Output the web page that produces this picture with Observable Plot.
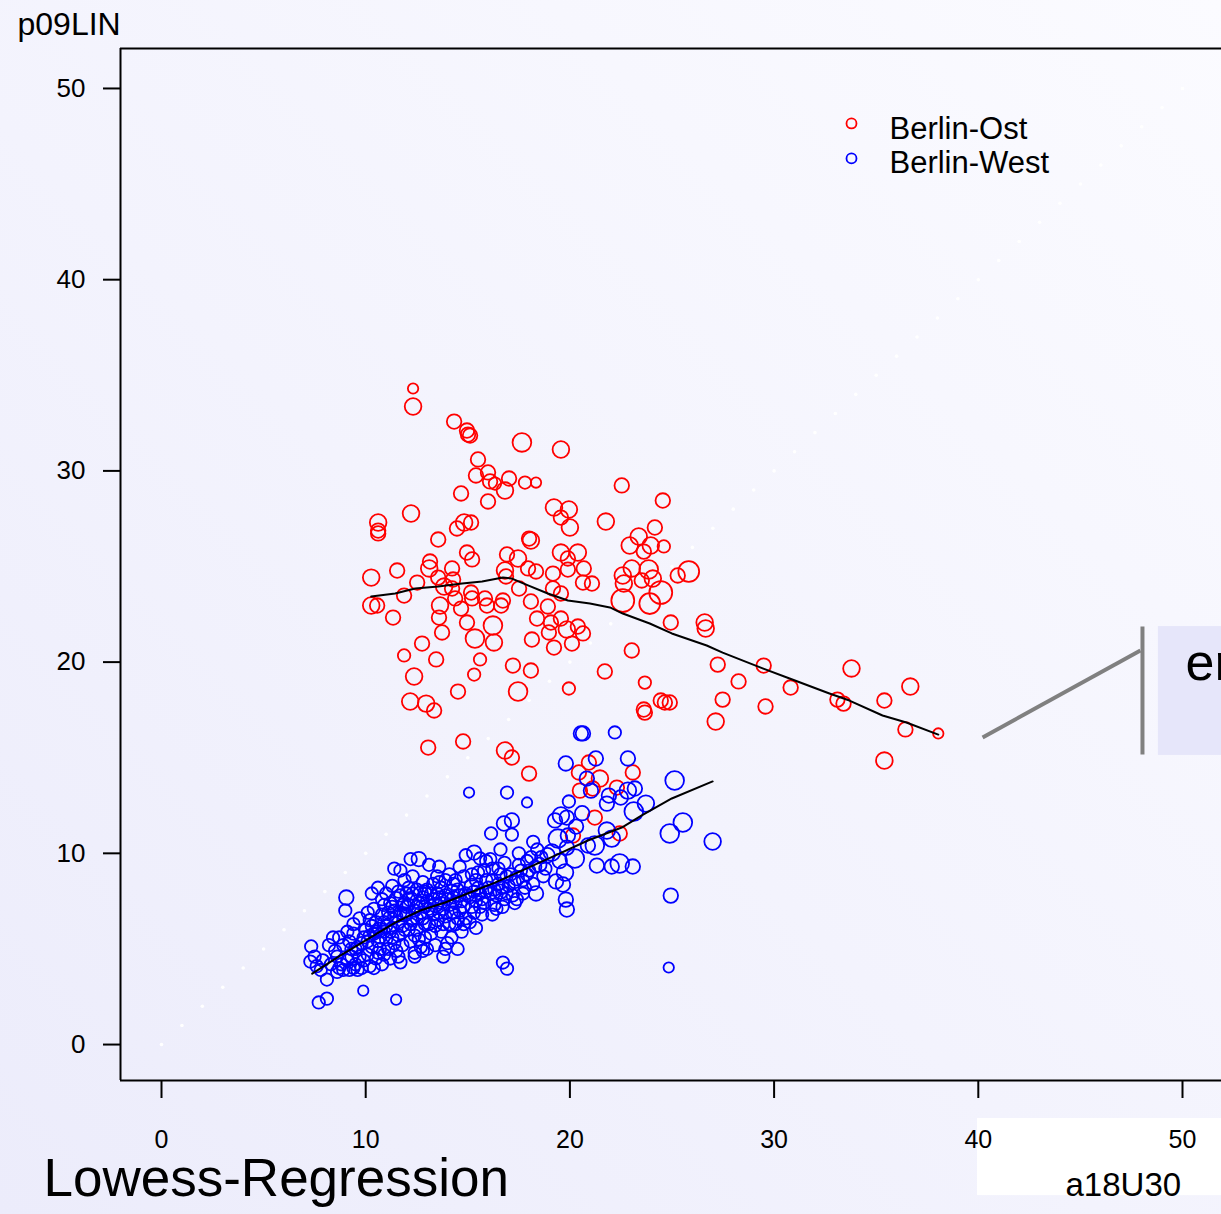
<!DOCTYPE html>
<html>
<head>
<meta charset="utf-8">
<script src="https://cdn.jsdelivr.net/npm/d3@7"></script>
<script src="https://cdn.jsdelivr.net/npm/@observablehq/plot@0.6"></script>
<style>
html, body { margin: 0; padding: 0; }
body {
  width: 1221px; height: 1214px; overflow: hidden;
  background: linear-gradient(to top right, #ececfb 0%, #f3f3fd 45%, #fbfbff 100%);
  font-family: "Liberation Sans", Arial, sans-serif;
}
#chart { position: absolute; left: 0; top: 0; }
#chart svg { display: block; }
</style>
</head>
<body>
<div id="chart"></div>
<script>
// ---- data ----
const groups = ["Berlin-Ost", "Berlin-West"];
const groupColors = ["#ff0000", "#0000ff"];
const xTicks = [0, 10, 20, 30, 40, 50];
const yTicks = [0, 10, 20, 30, 40, 50];
const xLabel = "a18U30";
const yLabel = "p09LIN";
const title = "Lowess-Regression";
const calloutText = "er";

// Berlin-Ost: [a18U30, p09LIN, weight]
const ostPoints = [
[12.32,34.31,5],[12.32,33.37,8],[14.33,32.58,7],[14.96,32.11,7],[15.01,31.90,7],[15.11,31.85,7],[17.65,31.49,9],[19.56,31.12,8],
[15.50,30.60,7],[15.40,29.76,7],[15.99,29.92,7],[16.09,29.45,7],[16.33,29.34,6],[16.82,28.97,8],[17.02,29.60,7],[17.80,29.39,6],
[18.34,29.39,5],[14.67,28.82,7],[15.99,28.40,7],[22.54,29.24,7],[24.55,28.45,7],[10.61,27.30,8],[10.61,26.88,7],[10.61,26.73,7],
[12.22,27.77,8],[13.55,26.41,7],[14.47,26.99,7],[14.82,27.30,8],[15.16,27.30,7],[19.22,28.09,8],[19.95,27.98,8],[19.56,27.56,7],
[20.00,27.04,8],[21.76,27.35,8],[24.16,27.04,7],[18.00,26.46,7],[18.09,26.36,8],[23.37,26.57,8],[23.62,25.78,7],[24.60,26.05,6],
[22.93,26.10,8],[23.96,26.10,8],[14.96,25.73,7],[15.21,25.37,7],[19.56,25.73,8],[20.39,25.73,8],[19.90,25.42,7],[16.92,25.63,7],
[17.46,25.42,8],[17.95,24.90,7],[18.34,24.74,7],[11.54,24.79,7],[12.52,24.16,7],[13.15,25.26,7],[13.11,24.90,8],[13.55,24.42,7],
[13.84,23.95,8],[14.23,24.90,7],[14.28,24.32,7],[14.23,23.85,7],[10.27,24.42,8],[16.82,24.79,8],[16.87,24.48,7],[17.51,23.85,7],
[18.09,23.17,7],[19.17,24.63,7],[19.90,24.84,7],[20.68,24.90,7],[20.64,24.16,7],[21.08,24.11,7],[19.17,23.85,7],[19.56,23.59,7],
[18.92,22.91,7],[18.39,22.28,7],[19.07,22.07,7],[19.56,22.28,7],[18.97,21.55,7],[19.85,21.71,8],[20.39,21.86,7],[20.64,21.50,7],
[18.14,21.18,7],[19.22,20.76,7],[20.10,20.97,7],[11.88,23.48,7],[11.34,22.33,7],[10.27,22.96,8],[10.56,22.96,7],[13.64,22.96,8],
[13.59,22.33,7],[13.74,21.55,7],[14.38,23.33,7],[14.67,22.80,7],[14.96,22.07,7],[15.35,21.23,9],[15.16,23.64,7],[15.21,23.33,7],
[15.84,23.33,7],[15.94,22.96,7],[16.63,22.96,7],[16.72,23.22,7],[16.23,21.91,9],[16.28,21.03,8],[12.76,20.97,7],[11.88,20.35,6],
[13.45,20.14,7],[12.37,19.25,8],[15.60,20.14,6],[15.31,19.35,6],[17.21,19.82,7],[18.09,19.56,7],[17.46,18.46,9],[19.95,18.62,6],
[14.52,18.46,7],[12.18,17.94,8],[12.96,17.83,8],[13.35,17.47,7],[13.06,15.53,7],[14.77,15.85,7],[16.82,15.38,8],[17.16,15.01,7],
[18.00,14.17,7],[21.71,19.51,7],[23.03,20.61,7],[23.67,18.93,6],[23.62,17.52,7],[23.67,17.36,7],[24.45,17.99,7],[24.65,17.89,7],
[24.89,17.89,7],[24.94,22.07,7],[22.59,23.22,11],[23.91,23.06,10],[24.45,23.64,11],[22.64,24.11,8],[22.59,24.53,8],[23.03,24.90,8],
[23.86,24.84,9],[23.52,24.27,7],[24.06,24.37,8],[25.28,24.53,7],[25.82,24.74,10],[26.60,22.07,8],[26.65,21.76,8],[27.24,19.87,7],
[28.26,18.99,7],[27.48,18.04,7],[27.14,16.89,8],[29.49,19.82,7],[29.58,17.68,7],[30.81,18.67,7],[33.79,19.67,8],[33.10,18.04,7],
[33.40,17.83,7],[35.40,17.99,7],[36.67,18.72,8],[36.43,16.48,7],[38.04,16.27,5],[35.40,14.85,8],[20.44,14.23,7],[20.93,14.75,7],
[21.47,13.91,8],[20.49,13.28,7],[21.12,13.39,7],[23.08,14.23,7],[22.30,13.44,7],[21.22,11.87,7],[22.44,11.04,7],[20.15,10.93,7]
];

// Berlin-West: [a18U30, p09LIN, weight]
const westPoints = [
[7.33,5.13,6],[7.29,4.34,6],[7.6,4.1,6],[7.9,4.4,6],[7.7,2.2,6],[8.1,2.4,6],[7.8,3.9,6],[7.5,4.6,6],
[8.1,3.4,6],[8.3,4.2,6],[8.5,4.9,6],[8.4,5.6,6],[8.7,5.6,6],[8.6,4.6,6],[8.8,4.2,6],[8.9,3.9,6],[8.2,5.2,6],[8.6,3.8,6],[8.9,5.2,6],[8.7,4.0,6],
[9.05,7.69,7],[9.0,7.01,6],[9.2,5.4,6],[9.4,5.8,6],[9.6,5.1,6],[9.3,4.6,6],[9.5,4.2,6],[9.8,4.0,6],[9.1,4.4,6],[9.7,4.6,6],[9.9,5.6,6],
[9.2,3.9,6],[9.6,3.9,6],[9.88,2.82,5],[9.5,5.0,6],[9.8,5.3,6],[9.3,5.0,6],
[9.1,5.9,6],[9.4,6.3,6],[9.7,6.6,6],[9.9,4.4,6],[9.4,4.0,6],
[10.0,6.0,6],[10.2,6.5,6],[10.4,5.8,6],[10.6,5.4,6],[10.3,5.1,6],[10.1,4.7,6],[10.5,4.5,6],[10.8,4.2,6],[10.2,4.1,6],[10.7,5.0,6],
[10.9,5.9,6],[10.5,6.4,6],[10.8,6.8,6],[10.3,7.9,6],[10.6,8.2,6],[10.9,7.3,6],[10.1,5.4,6],[10.4,4.0,6],[10.9,4.7,6],[10.7,6.0,7],
[10.1,6.9,6],[10.3,6.2,6],[10.5,5.9,6],[10.7,5.6,6],[10.9,6.4,6],[10.2,5.7,6],[10.6,4.8,6],[10.8,7.6,6],[10.4,7.1,6],
[11.0,6.2,6],[11.2,6.6,7],[11.4,7.0,6],[11.6,6.4,6],[11.3,5.6,6],[11.1,5.0,6],[11.5,4.9,6],[11.8,5.2,6],[11.2,4.5,6],[11.7,4.3,6],
[11.9,6.0,6],[11.5,7.6,7],[11.8,7.3,6],[11.2,7.4,6],[11.6,8.0,6],[11.9,8.6,6],[11.49,2.35,5],[11.4,9.2,6],[11.7,9.1,6],[11.0,7.9,6],
[11.3,6.1,6],[11.9,6.8,7],[11.6,5.7,6],
[11.1,6.9,6],[11.3,7.2,6],[11.5,6.7,6],[11.7,6.9,6],[11.9,7.4,6],[11.2,5.9,6],[11.4,5.3,6],[11.6,4.6,6],[11.8,6.2,6],[11.0,5.5,6],[11.3,8.3,6],[11.7,7.8,6],
[12.0,7.2,6],[12.2,7.6,7],[12.4,7.0,6],[12.6,7.4,6],[12.3,6.5,6],[12.1,6.0,6],[12.5,6.0,6],[12.8,6.6,6],[12.2,5.4,6],[12.7,5.1,6],
[12.4,4.8,6],[12.9,5.6,6],[12.1,8.2,6],[12.5,8.1,6],[12.8,8.5,6],[12.3,8.8,6],[12.7,7.9,7],[12.9,7.2,6],[12.6,9.7,7],[12.2,9.7,6],
[12.4,4.6,6],[12.0,6.8,6],[12.8,4.9,6],
[12.1,7.3,6],[12.3,7.9,6],[12.5,7.2,6],[12.7,6.9,6],[12.9,6.3,6],[12.2,6.3,6],[12.4,5.7,6],[12.6,5.5,6],[12.8,7.7,6],[12.0,7.9,6],[12.5,6.6,6],[12.9,8.0,6],
[13.0,7.5,6],[13.2,7.9,6],[13.4,7.3,7],[13.6,7.7,6],[13.8,7.1,6],[13.3,6.8,6],[13.1,6.3,6],[13.5,6.5,6],[13.9,6.7,6],[13.2,5.8,6],
[13.7,5.9,6],[13.4,5.2,6],[13.9,5.0,6],[13.3,8.4,6],[13.7,8.2,6],[13.5,8.8,6],[13.1,9.4,6],[13.6,9.3,6],[13.9,8.6,6],[13.0,5.0,6],[13.8,4.6,6],
[13.1,7.1,6],[13.3,7.6,6],[13.5,7.9,6],[13.7,7.4,6],[13.9,7.8,6],[13.2,7.0,6],[13.4,6.2,6],[13.6,6.9,6],[13.8,6.3,6],[13.0,8.1,6],[13.6,8.5,6],
[14.0,7.6,6],[14.2,8.0,7],[14.4,7.4,6],[14.6,7.8,6],[14.8,7.2,6],[14.3,6.9,6],[14.1,6.3,6],[14.5,6.6,6],[14.9,6.6,6],[14.2,5.6,6],
[14.7,5.9,6],[14.4,8.6,6],[14.8,8.8,6],[14.1,8.9,6],[14.6,9.3,6],[14.9,9.9,6],[14.5,5.0,6],[14.0,5.3,6],
[14.1,7.3,6],[14.3,7.7,6],[14.5,8.1,6],[14.7,7.5,6],[14.9,7.9,6],[14.2,6.9,6],[14.4,6.3,6],[14.6,7.0,6],[14.8,6.3,6],[14.3,8.4,6],
[15.0,7.8,6],[15.2,8.3,7],[15.4,7.5,6],[15.6,7.9,6],[15.8,7.4,6],[15.3,6.9,6],[15.1,6.4,6],[15.7,6.8,6],[15.5,9.0,6],[15.9,9.6,6],
[15.31,10.04,7],[15.6,9.73,6],[15.2,8.9,6],[15.9,8.6,6],[15.4,6.1,6],
[15.1,7.7,6],[15.3,8.0,6],[15.5,8.2,6],[15.7,7.6,6],[15.9,8.0,6],[15.2,7.2,6],[15.6,7.2,6],[15.8,9.1,6],[15.4,8.6,6],
[16.0,8.2,6],[16.2,8.6,6],[16.4,7.8,6],[16.6,8.0,7],[16.8,7.6,6],[16.3,7.3,6],[16.7,7.2,6],[16.5,9.2,6],[16.8,9.5,6],[16.14,11.04,6],
[16.77,11.56,7],[16.2,6.8,6],[16.9,8.8,6],[16.72,4.29,6],[16.92,3.97,6],[16.1,9.7,6],[16.6,10.2,6],
[16.1,7.9,6],[16.3,8.1,6],[16.5,8.4,6],[16.7,8.2,6],[16.9,7.9,6],[16.4,7.1,6],[16.6,8.9,6],[16.2,9.2,6],
[17.0,8.3,6],[17.2,7.8,6],[17.4,8.7,7],[17.6,9.1,6],[17.8,8.2,6],[17.16,11.72,7],[17.16,10.98,6],[17.5,10.0,6],[17.3,7.4,6],[17.9,9.6,6],[17.7,7.9,6],
[17.1,8.9,6],[17.3,8.5,6],[17.5,9.4,6],[17.7,8.6,6],[17.9,8.9,6],[17.4,7.6,6],
[18.0,9.1,6],[18.2,8.4,6],[18.34,7.90,7],[18.5,9.4,7],[18.7,8.8,6],[18.9,9.9,7],[18.4,10.2,6],[18.1,9.8,6],
[18.3,9.3,6],[18.6,9.8,6],[18.8,9.2,6],[18.2,10.6,6],
[19.27,11.72,7],[19.56,11.98,8],[19.85,11.87,7],[19.41,10.77,9],[19.90,10.93,7],[19.85,10.30,7],[19.12,10.04,8],[19.76,9.00,8],
[19.32,8.53,7],[19.66,8.37,7],[19.80,7.58,7],[19.85,7.06,7],[19.95,12.71,6],[19.80,14.70,7],[19.5,9.6,7],
[20.54,16.27,7],[20.64,16.27,7],[22.20,16.32,6],[21.27,14.96,7],[22.84,14.96,7],[25.13,13.81,9],[20.83,13.91,7],[21.03,13.28,7],
[21.91,13.02,7],[22.84,13.28,8],[23.18,13.39,7],[21.81,12.60,7],[22.49,12.92,7],[23.13,12.19,9],[23.72,12.60,8],[25.53,11.61,9],
[24.89,11.04,9],[26.99,10.62,8],[24.94,7.79,7],[24.84,4.03,5],[21.81,11.19,8],[22.05,10.77,8],[20.88,10.41,7],[21.22,10.41,9],
[20.24,9.73,9],[21.32,9.36,7],[22.05,9.31,7],[22.44,9.47,9],[23.08,9.31,7],[20.3,11.4,7],[20.6,12.1,7],
[15.06,13.18,5],[16.92,13.18,6],[17.90,12.66,5]
];

// Lowess curves as drawn in the picture: [a18U30, p09LIN]
const ostLowess = [
[10.27,23.43],[11.44,23.59],[12.42,23.85],[13.55,23.95],[14.72,24.11],[15.70,24.22],[16.72,24.42],[17.16,24.37],
[17.95,24.01],[18.92,23.59],[19.90,23.22],[20.98,23.06],[21.96,22.86],[22.59,22.54],[23.91,22.02],[24.99,21.50],
[26.70,20.87],[27.48,20.50],[29.44,19.67],[30.76,19.14],[32.71,18.36],[33.69,17.99],[35.31,17.21],[36.48,16.84],[38.04,16.21]
];
const westLowess = [
[7.38,3.71],[8.75,4.65],[9.98,5.44],[11.44,6.38],[12.67,7.01],[13.89,7.43],[15.11,7.95],[16.33,8.47],
[17.65,9.10],[18.29,9.41],[19.27,9.88],[20.88,10.67],[22.54,11.35],[23.52,11.98],[24.99,12.87],[26.99,13.76]
];

// faint diagonal reference (a18U30 = p09LIN)
const diagonal = [0,1,2,3,4,5,6,7,8,9,10,11,12,13,14,15,16,17,18,19,20,21,22,23,24,25,26,27,28,29,30,31,32,33,34,35,36,37,38,39,40,41,42,43,44,45,46,47,48,49,50];

// ---- build table ----
const toRows = (arr, g) => arr.map(([a, p, w]) => ({a18U30: a, p09LIN: p, weight: w, group: g}));
const ostRows = toRows(ostPoints, groups[0]);
const westRows = toRows(westPoints, groups[1]);
const lineRows = (arr) => arr.map(([a, p]) => ({a18U30: a, p09LIN: p}));

const font = "Liberation Sans, Arial, Helvetica, sans-serif";

const chart = Plot.plot({
  width: 1221,
  height: 1214,
  marginLeft: 120,
  marginRight: 0,
  marginTop: 48,
  marginBottom: 134,
  style: {background: "transparent", fontFamily: font, color: "black", overflow: "visible"},
  x: {domain: [-2.008, 51.91]},
  y: {domain: [-1.88, 52.09]},
  r: {type: "linear", domain: [0, 10], range: [0, 10.4]},
  color: {domain: groups, range: groupColors},
  marks: [
    // white label box behind x-axis title
    Plot.rect([0], {x1: 39.96, x2: 53, y1: -3.87, y2: -7.90, fill: "white"}),
    // callout
    Plot.rect([0], {x1: 48.82, x2: 53, y1: 15.12, y2: 21.86, fill: "#e6e6fa"}),
    Plot.link([0], {x1: 40.21, y1: 16.06, x2: 47.94, y2: 20.61, stroke: "#808080", strokeWidth: 4}),
    Plot.link([0], {x1: 48.04, y1: 21.86, x2: 48.04, y2: 15.17, stroke: "#808080", strokeWidth: 4}),
    Plot.text([calloutText], {x: 50.15, y: 19.93, text: d => d, textAnchor: "start", lineAnchor: "middle", fontSize: 52, fill: "black"}),
    // diagonal dots
    Plot.dot(diagonal, {x: d => d, y: d => d, r: 1.8, fill: "white", stroke: null}),
    // frame lines
    Plot.ruleX([-2.008], {stroke: "black", strokeWidth: 2}),
    Plot.ruleY([52.09], {stroke: "black", strokeWidth: 2}),
    Plot.ruleY([-1.88], {stroke: "black", strokeWidth: 2}),
    // axes
    Plot.axisY(yTicks, {anchor: "left", tickSize: 17, tickPadding: 18, fontSize: 26, strokeWidth: 2, label: null}),
    Plot.axisX(xTicks, {anchor: "bottom", tickSize: 18, tickPadding: 32, fontSize: 25, strokeWidth: 2, label: null}),
    // points
    Plot.dot(ostRows, {x: "a18U30", y: "p09LIN", r: "weight", stroke: "group", fill: "none", strokeWidth: 1.8, sort: null}),
    Plot.dot(westRows, {x: "a18U30", y: "p09LIN", r: "weight", stroke: "group", fill: "none", strokeWidth: 1.8, sort: null}),
    // lowess lines
    Plot.line(lineRows(ostLowess), {x: "a18U30", y: "p09LIN", stroke: "black", strokeWidth: 2}),
    Plot.line(lineRows(westLowess), {x: "a18U30", y: "p09LIN", stroke: "black", strokeWidth: 2}),
    // legend
    Plot.dot(groups, {x: 33.79, y: (d, i) => [48.17, 46.34][i], r: 5, stroke: (d) => d, fill: "none", strokeWidth: 1.8}),
    Plot.text(groups, {x: 35.65, y: (d, i) => [47.86, 46.08][i], text: d => d, textAnchor: "start", lineAnchor: "middle", fontSize: 31, fill: "black"}),
    // titles
    Plot.text([yLabel], {frameAnchor: "top-left", dx: -103, dy: -24, text: d => d, textAnchor: "start", lineAnchor: "middle", fontSize: 32, fill: "black"}),
    Plot.text([title], {frameAnchor: "bottom-left", dx: -77, dy: 99, text: d => d, textAnchor: "start", lineAnchor: "middle", fontSize: 53, fill: "black"}),
    Plot.text([xLabel], {frameAnchor: "bottom-left", dx: 945, dy: 105, text: d => d, textAnchor: "start", lineAnchor: "middle", fontSize: 33, fill: "black"})
  ]
});
document.getElementById("chart").appendChild(chart);
</script>
</body>
</html>
